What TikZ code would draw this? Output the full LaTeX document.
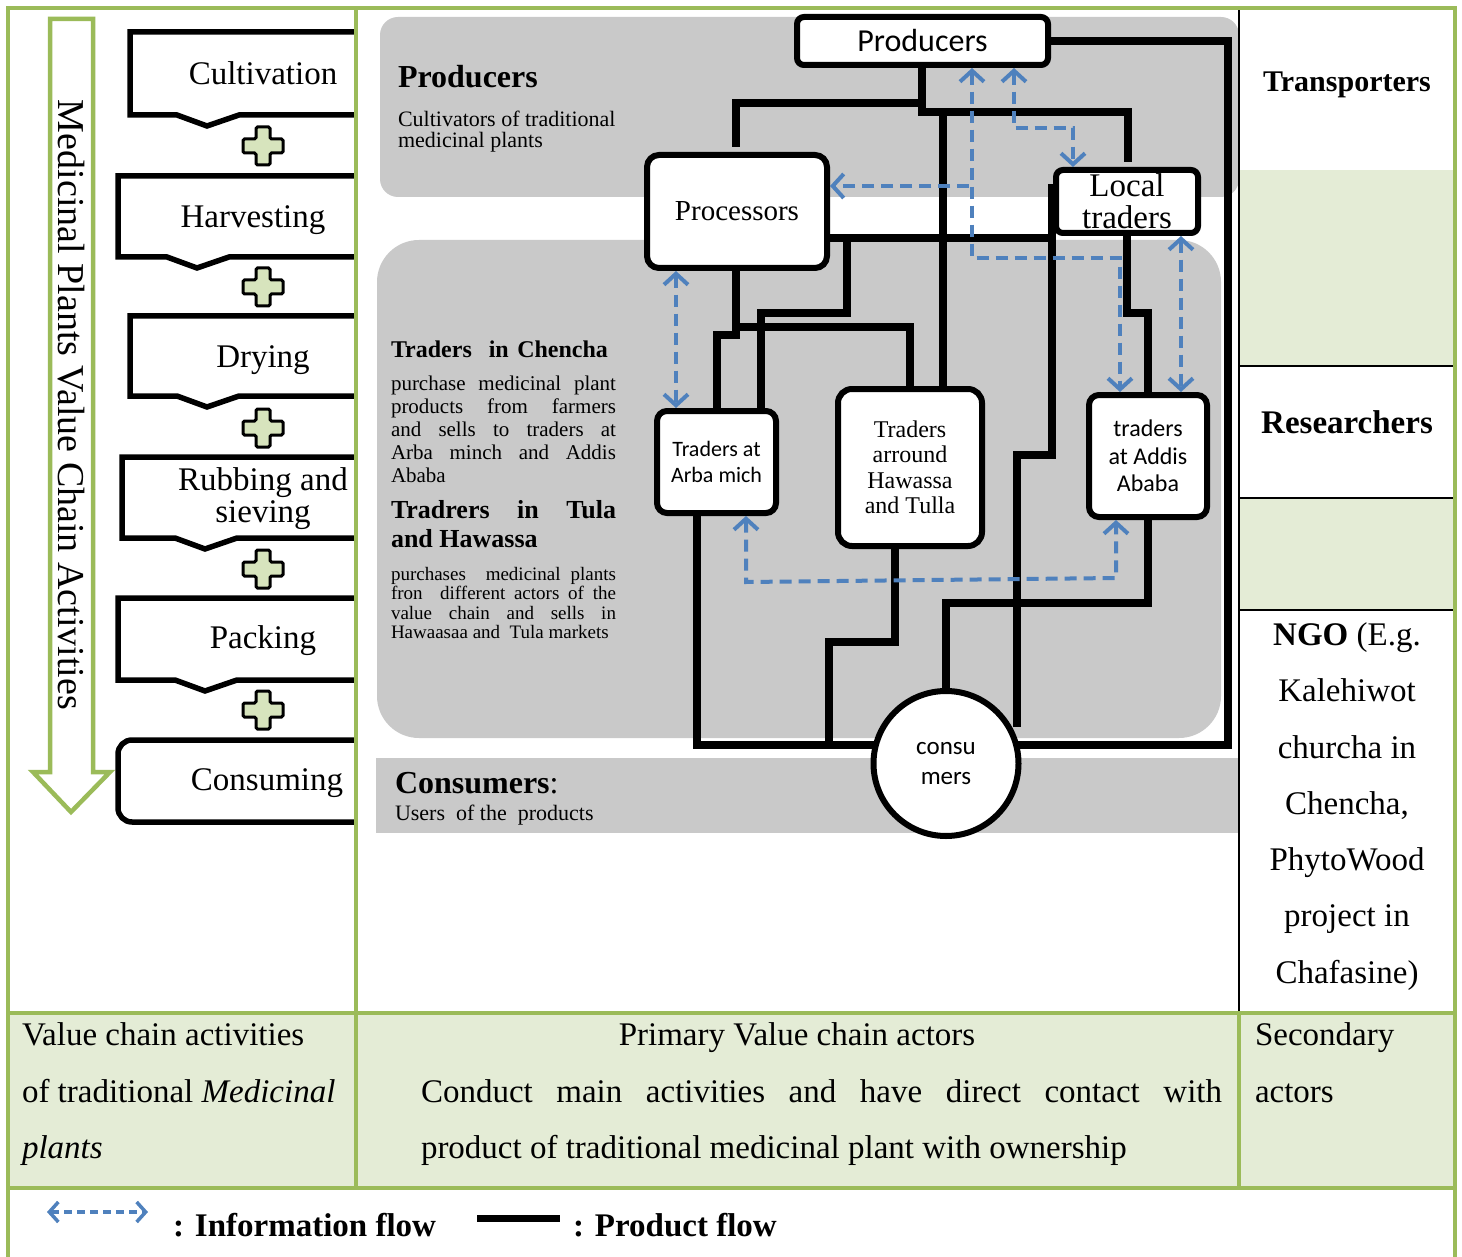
\documentclass[tikz,border=0pt]{standalone}
\usepackage{fontspec}
\setmainfont{Liberation Serif}
\newfontfamily\calib{Carlito}
\usetikzlibrary{arrows.meta}
\definecolor{tgreen}{RGB}{155,187,89}
\definecolor{lgreen}{RGB}{228,236,214}
\definecolor{pgray}{RGB}{201,201,201}
\definecolor{plusg}{RGB}{215,228,189}
\definecolor{iblue}{RGB}{79,129,189}
\newcommand\myfs[2]{\fontsize{#1}{#2}\selectfont}
\pgfdeclarelayer{back}
\pgfdeclarelayer{mid}
\pgfdeclarelayer{front}
\pgfsetlayers{back,mid,main,front}
\tikzset{
  prodflow/.style={line width=7.5pt, line cap=rect, line join=miter},
  infoflow/.style={draw=iblue, line width=4pt, dash pattern=on 12pt off 7pt, shorten <=3pt, shorten >=3pt, >={Straight Barb[length=11pt,width=24pt]}},
  actline/.style={line width=5.5pt, line join=miter},
  actorbox/.style={draw, line width=6pt, fill=white, rounded corners=10pt, inner sep=0pt, outer sep=0pt, align=center},
  plusst/.style={draw, line width=3pt, fill=plusg, rounded corners=1.5pt},
  tgrid/.style={draw=tgreen, line width=4pt},
  bgrid/.style={draw=black, line width=1.5pt},
  lbl/.style={inner sep=0pt, outer sep=0pt},
}
\newcommand\actshape[4]{%
  \draw[actline] (356,#2) -- (#1,#2) -- (#1,#3) -- ({#4-30},#3) -- (#4,{#3+11}) -- ({#4+32},#3) -- (356,#3);}
\newcommand\plusmark[2]{%
  \draw[plusst, shift={(#1,#2)}] (-7,-19) -- (7,-19) -- (7,-7) -- (20,-7) -- (20,7) -- (7,7) -- (7,19) -- (-7,19) -- (-7,7) -- (-20,7) -- (-20,-7) -- (-7,-7) -- cycle;}
\begin{document}
\begin{tikzpicture}[x=1pt,y=-1pt]
\useasboundingbox (0,0) rectangle (1462,1257);
\begin{pgfonlayer}{back}
  \fill[white] (0,0) rectangle (1462,1257);
  \fill[lgreen] (8,1013) rectangle (1455,1188);
  \fill[lgreen] (1239,170) rectangle (1455,366);
  \fill[lgreen] (1239,498) rectangle (1455,610);
  \fill[pgray, rounded corners=18pt] (380,17) rectangle (1239,197);
  \fill[pgray, rounded corners=42pt] (377,240) rectangle (1221,738);
  \fill[pgray] (376,758) rectangle (1239,833);
\end{pgfonlayer}

% left column: activities
\draw[draw=tgreen, line width=4.5pt, fill=white, line join=miter] (50,19) -- (93,19) -- (93,772) -- (110,772) -- (71,812) -- (33,772) -- (50,772) -- cycle;
\node[lbl, rotate=-90, font=\myfs{38}{42}] (vtitle) at (71,405) {Medicinal Plants Value Chain Activities};

\actshape{130}{32}{115}{207}
\actshape{118}{176}{257}{197}
\actshape{130}{316}{396}{207}
\actshape{122}{457}{538}{205}
\actshape{118}{598}{680}{205}
\draw[actline, rounded corners=14pt] (356,740) -- (118,740) -- (118,822) -- (356,822);

\node[lbl, anchor=base, font=\myfs{33}{38}] (act1) at (263,85) {Cultivation};
\node[lbl, anchor=base, font=\myfs{33}{38}] (act2) at (253,228) {Harvesting};
\node[lbl, anchor=base, font=\myfs{33}{38}] (act3) at (263,367) {Drying};
\node[lbl, anchor=base, font=\myfs{33}{38}] (act4a) at (263,490) {Rubbing and};
\node[lbl, anchor=base, font=\myfs{33}{38}] (act4b) at (263,522) {sieving};
\node[lbl, anchor=base, font=\myfs{33}{38}] (act5) at (263,648) {Packing};
\node[lbl, anchor=base, font=\myfs{33}{38}] (act6) at (267,790) {Consuming};

\plusmark{263}{146}
\plusmark{263}{287}
\plusmark{263}{428}
\plusmark{263}{569}
\plusmark{263}{710}

% grid
\draw[bgrid] (1239,8) -- (1239,1013);
\draw[bgrid] (1239,366) -- (1455,366);
\draw[bgrid] (1239,498) -- (1455,498);
\draw[bgrid] (1239,610) -- (1455,610);
\draw[tgrid] (8,1257) -- (8,8) -- (1455,8) -- (1455,1257);
\draw[tgrid] (8,1013) -- (1455,1013);
\draw[tgrid] (8,1188) -- (1455,1188);
\draw[tgrid] (356,8) -- (356,1188);
\draw[tgrid] (1239,1013) -- (1239,1188);

% panel texts
\node[lbl, anchor=base west, font=\bfseries\myfs{32}{36}] (ptitle) at (398,88) {Producers};
\node[lbl, anchor=base west, font=\myfs{22}{24}] (pdesc1) at (398,127) {Cultivators of traditional};
\node[lbl, anchor=base west, font=\myfs{22}{24}] (pdesc2) at (398,148) {medicinal plants};

\node[lbl, anchor=base west, font=\bfseries\myfs{24}{28}] (tc) at (391,357) {\makebox[217pt][s]{Traders\ \ in Chencha}};
\node[lbl, anchor=base west, font=\myfs{21}{23}] (tc1) at (391,390) {\makebox[225pt][s]{purchase medicinal plant}};
\node[lbl, anchor=base west, font=\myfs{21}{23}] (tc2) at (391,413) {\makebox[225pt][s]{products from farmers}};
\node[lbl, anchor=base west, font=\myfs{21}{23}] (tc3) at (391,436) {\makebox[225pt][s]{and sells to traders at}};
\node[lbl, anchor=base west, font=\myfs{21}{23}] (tc4) at (391,459) {\makebox[225pt][s]{Arba minch and Addis}};
\node[lbl, anchor=base west, font=\myfs{21}{23}] (tc5) at (391,482) {Ababa};

\node[lbl, anchor=base west, font=\bfseries\myfs{26}{29}] (tt1) at (391,518) {\makebox[225pt][s]{Tradrers in Tula}};
\node[lbl, anchor=base west, font=\bfseries\myfs{26}{29}] (tt2) at (391,547) {and Hawassa};
\node[lbl, anchor=base west, font=\myfs{19}{20}] (tt3) at (391,580) {\makebox[225pt][s]{purchases\ \ medicinal plants}};
\node[lbl, anchor=base west, font=\myfs{19}{20}] (tt4) at (391,599) {\makebox[225pt][s]{fron\ \ different actors of the}};
\node[lbl, anchor=base west, font=\myfs{19}{20}] (tt5) at (391,619) {\makebox[225pt][s]{value chain and sells in}};
\node[lbl, anchor=base west, font=\myfs{19}{20}] (tt6) at (391,638) {Hawaasaa and\ \ Tula markets};

\node[lbl, anchor=base west, font=\myfs{32}{36}] (ctitle) at (395,793) {\textbf{Consumers}:};
\node[lbl, anchor=base west, font=\myfs{22}{24}] (cdesc) at (395,820) {Users\ \ of the\ \ products};

% actor boxes
\node[actorbox, minimum width=251pt, minimum height=48pt, rounded corners=7pt, font=\calib\myfs{32}{36}] (prod) at (922.5,41) {Producers};
\node[actorbox, minimum width=180pt, minimum height=113pt, rounded corners=12pt, font=\myfs{29}{33}] (proc) at (737,211.5) {Processors};
\node[actorbox, minimum width=142pt, minimum height=63pt, rounded corners=7pt, font=\myfs{33}{32}] (loc) at (1127,201.5) {Local\\traders};
\node[actorbox, minimum width=119pt, minimum height=102pt, font=\calib\myfs{22}{26}] (arba) at (716.5,462) {Traders at\\Arba mich};
\node[actorbox, minimum width=144pt, minimum height=157pt, rounded corners=14pt, font=\myfs{24}{25.5}] (haw) at (910,467.5) {Traders\\arround\\Hawassa\\and Tulla};
\node[actorbox, minimum width=118pt, minimum height=122pt, font=\calib\myfs{24}{27.5}] (addis) at (1148,456) {traders\\at Addis\\Ababa};
\node[actorbox, circle, sharp corners, minimum size=145pt, font=\calib\myfs{25}{30}] (cons) at (946,763.5) {consu\\mers};

% product flow
\begin{pgfonlayer}{mid}
  \draw[prodflow] (prod.east) -- (1228,41) -- (1228,745) -- (cons.center |- 0,745);
  \draw[prodflow] (prod.south -| 922,0) -- (922,112) -- (1128,112) -- (1128,158);
  \draw[prodflow] (922,103) -- (736,103) -- (736,143);
  \draw[prodflow] (943,112) -- (haw.north -| 943,0);
  \draw[prodflow] (proc.east |- 0,238) -- (1052,238);
  \draw[prodflow] (1052,188) -- (1052,455) -- (1017,455) -- (1017,723);
  \draw[prodflow] (847,238) -- (847,313) -- (761,313) -- (arba.north -| 761,0);
  \draw[prodflow] (proc.south -| 736,0) -- (736,335) -- (717,335) -- (arba.north -| 717,0);
  \draw[prodflow] (736,327) -- (910,327) -- (haw.north -| 910,0);
  \draw[prodflow] (arba.south -| 697,0) -- (697,745) -- (cons.center |- 0,745);
  \draw[prodflow] (haw.south -| 895,0) -- (895,642) -- (829,642) -- (829,745);
  \draw[prodflow] (addis.south -| 1148,0) -- (1148,603) -- (946,603) -- (cons.center);
  \draw[prodflow] (loc.south -| 1127,0) -- (1127,313) -- (1148,313) -- (addis.north -| 1148,0);
\end{pgfonlayer}

% information flow
\begin{pgfonlayer}{front}
  \draw[infoflow, <->] (prod.south -| 972,0) -- (972,258) -- (1120,258) -- (addis.north -| 1120,0);
  \draw[infoflow, ->] (972,186) -- (proc.east |- 0,186);
  \draw[infoflow, <->] (prod.south -| 1014,0) -- (1014,128) -- (1073,128) -- (loc.north -| 1073,0);
  \draw[infoflow, <->] (loc.south -| 1181,0) -- (addis.north -| 1181,0);
  \draw[infoflow, <->] (proc.south -| 676,0) -- (arba.north -| 676,0);
  \draw[infoflow, <->] (arba.south -| 746,0) -- (746,582) -- (1116,578) -- (addis.south -| 1116,0);
\end{pgfonlayer}

% right column
\node[lbl, anchor=base, font=\bfseries\myfs{30}{34}] (transp) at (1347,92) {Transporters};
\node[lbl, anchor=base, font=\bfseries\myfs{33}{38}] (resr) at (1347,433) {Researchers};
\node[lbl, anchor=base, font=\myfs{33}{38}] (ngo1) at (1347,645) {\textbf{NGO} (E.g.};
\node[lbl, anchor=base, font=\myfs{33}{38}] (ngo2) at (1347,701) {Kalehiwot};
\node[lbl, anchor=base, font=\myfs{33}{38}] (ngo3) at (1347,758) {churcha in};
\node[lbl, anchor=base, font=\myfs{33}{38}] (ngo4) at (1347,814) {Chencha,};
\node[lbl, anchor=base, font=\myfs{33}{38}] (ngo5) at (1347,870) {PhytoWood};
\node[lbl, anchor=base, font=\myfs{33}{38}] (ngo6) at (1347,926) {project in};
\node[lbl, anchor=base, font=\myfs{33}{38}] (ngo7) at (1347,983) {Chafasine)};

% bottom row
\node[lbl, anchor=base west, font=\myfs{33}{38}] (vc1) at (22,1045) {Value chain activities};
\node[lbl, anchor=base west, font=\myfs{33}{38}] (vc2) at (22,1102) {of traditional \textit{Medicinal}};
\node[lbl, anchor=base west, font=\myfs{33}{38}] (vc3) at (22,1158) {\textit{plants}};
\node[lbl, anchor=base, font=\myfs{33}{38}] (pa1) at (797,1045) {Primary Value chain actors};
\node[lbl, anchor=base west, font=\myfs{33}{38}] (pa2) at (421,1102) {\makebox[801pt][s]{Conduct main activities and have direct contact with}};
\node[lbl, anchor=base west, font=\myfs{33}{38}] (pa3) at (421,1158) {product of traditional medicinal plant with ownership};
\node[lbl, anchor=base west, font=\myfs{33}{38}] (sa1) at (1255,1045) {Secondary};
\node[lbl, anchor=base west, font=\myfs{33}{38}] (sa2) at (1255,1102) {actors};

% legend
\coordinate (li1) at (47,1212);
\coordinate (li2) at (148,1212);
\draw[infoflow, <->, line width=3.5pt, dash pattern=on 8pt off 5pt, shorten <=0pt, shorten >=0pt, >={Straight Barb[length=9pt,width=20pt]}] (li1) -- (li2);
\node[lbl, anchor=base west, font=\bfseries\myfs{33}{38}] (leginfo) at (173,1236) {: Information flow};
\coordinate (lp1) at (477,1218);
\coordinate (lp2) at (560,1218);
\draw[line width=7pt] (lp1) -- (lp2);
\node[lbl, anchor=base west, font=\bfseries\myfs{33}{38}] (legprod) at (573,1236) {: Product flow};
\end{tikzpicture}
\end{document}
